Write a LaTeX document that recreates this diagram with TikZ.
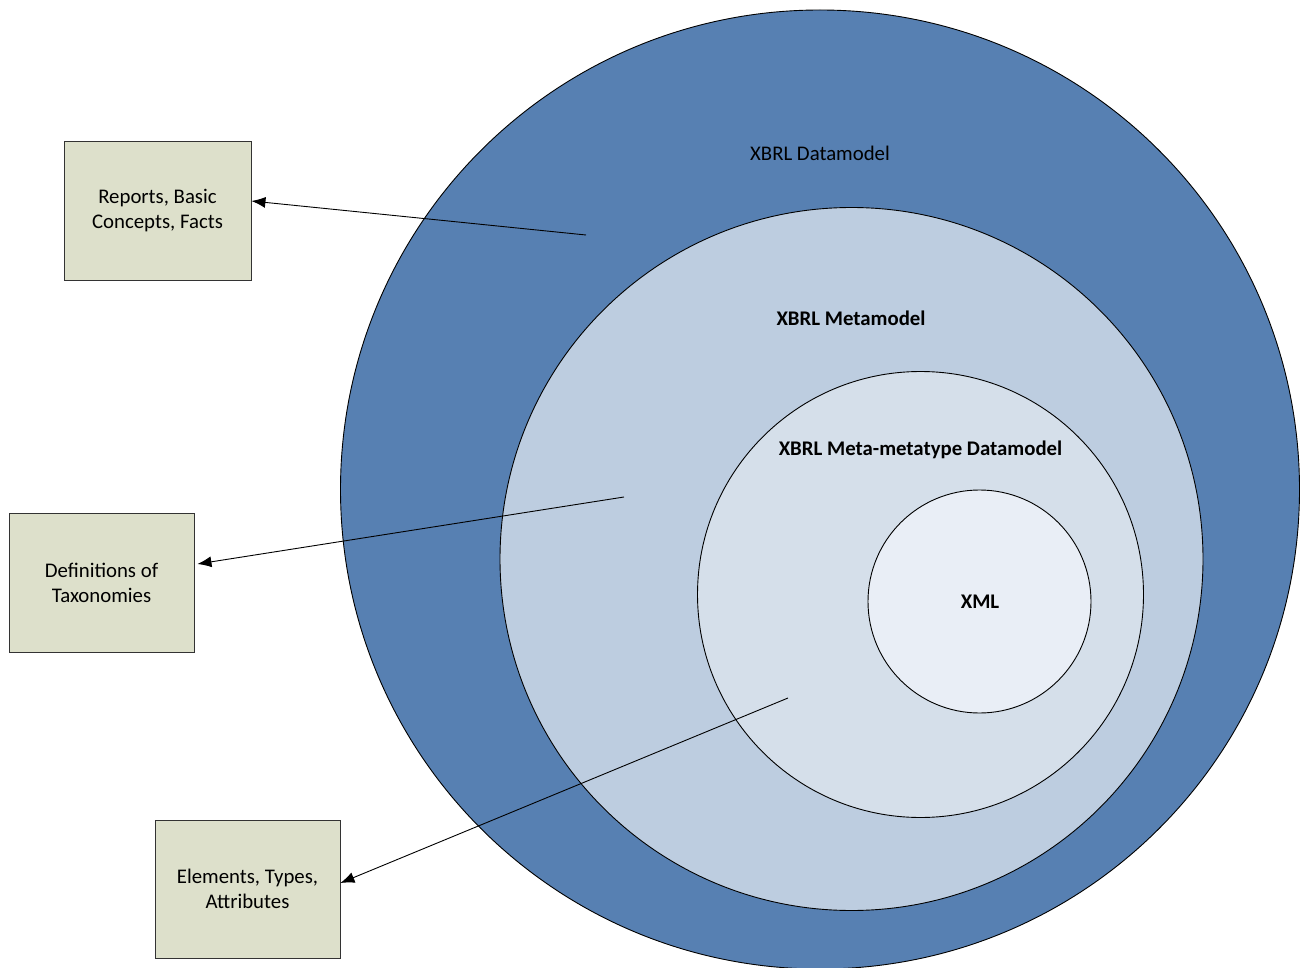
\documentclass[tikz,border=0pt]{standalone}
\usepackage{fontspec}
\setmainfont{Carlito}
\usetikzlibrary{arrows.meta}
\definecolor{c1}{RGB}{87,128,178}
\definecolor{c2}{RGB}{189,205,224}
\definecolor{c3}{RGB}{213,223,234}
\definecolor{c4}{RGB}{233,238,246}
\definecolor{boxfill}{RGB}{221,224,203}
\tikzset{
  ring/.style={draw=black, line width=0.9pt, circle},
  infobox/.style={draw=black!80, line width=0.9pt, fill=boxfill, minimum width=#1, minimum height=139pt, inner sep=0pt, align=center, font=\fontsize{20.8}{25}\selectfont},
  lbl/.style={font=\fontsize{20.8}{25}\selectfont, inner sep=0pt},
  blbl/.style={font=\fontsize{20.8}{25}\selectfont\bfseries, inner sep=0pt},
  conn/.style={draw=black, line width=0.9pt, -{Latex[length=14pt,width=11pt]}}
}
\begin{document}
\begin{tikzpicture}[x=1pt,y=-1pt]
\useasboundingbox (0,0) rectangle (1304,968);
\clip (0,0) rectangle (1304,968);
\fill[white] (0,0) rectangle (1304,968);
% circles
\draw[ring, fill=c1] (820,489.5) circle[radius=479.5];
\draw[ring, fill=c2] (851.5,559) circle[radius=351.5];
\draw[ring, fill=c3] (920.5,594.5) circle[radius=223];
\draw[ring, fill=c4] (979.5,601.5) circle[radius=111.5];
% labels
\node[lbl] (l1) at (820,153) {XBRL Datamodel};
\node[blbl] (l2) at (851,318) {XBRL Metamodel};
\node[blbl] (l3) at (920.5,450) {XBRL Meta-metatype Datamodel};
\node[blbl] (l4) at (980,602) {XML};
% boxes
\node[infobox=187pt] (b1) at (157.5,210.5) {Reports, Basic\\Concepts, Facts};
\node[infobox=185pt] (b2) at (101.5,582.5) {Definitions of\\Taxonomies};
\node[infobox=185pt, minimum height=138pt] (b3) at (247.5,889) {Elements, Types,\\Attributes};
% connector origins
\coordinate (s1) at (586,235);
\coordinate (s2) at (624,497);
\coordinate (s3) at (788,698);
\draw[conn] (s1) -- ([yshift=9.5pt]b1.east);
\draw[conn] (s2) -- ([yshift=18.5pt,xshift=3pt]b2.east);
\draw[conn] (s3) -- ([yshift=6pt]b3.east);
\end{tikzpicture}
\end{document}
